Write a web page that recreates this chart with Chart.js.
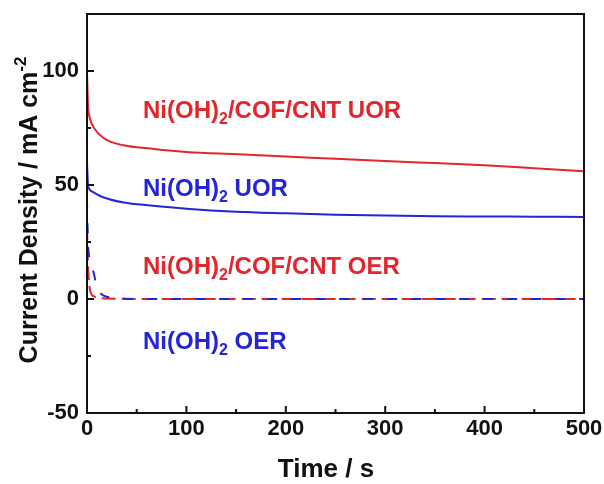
<!DOCTYPE html>
<html>
<head>
<meta charset="utf-8">
<script src="https://cdn.jsdelivr.net/npm/chart.js@4.4.0/dist/chart.umd.min.js"></script>
<style>
  body { margin: 0; background: #fff; }
  #wrap { width: 604px; height: 484px; }
</style>
</head>
<body>
<div id="wrap"><canvas id="chronoChart" width="604" height="484"></canvas></div>
<script>
// time axis (s) and current density (mA cm-2)
const timeUOR = [0, 1, 2, 3, 7, 17, 37, 64, 100, 150, 200, 250, 300, 350, 400, 450, 500];
const cofUOR  = [100, 85, 81, 79, 75, 70.5, 67.4, 66, 64.5, 63.5, 62.5, 61.5, 60.5, 59.6, 58.7, 57.4, 56];
const niUOR   = [60, 50, 48.5, 47.8, 46.7, 44.5, 42.3, 41, 39.6, 38.3, 37.6, 37, 36.6, 36.3, 36.2, 36.1, 36];

const timeOER = [0, 1, 2, 3, 5, 7, 10, 15, 20, 30, 50, 100, 200, 300, 400, 500];
const cofOER  = [32, 15, 8, 4, 1.8, 1.2, 0.5, 0.3, 0.2, 0.1, 0, 0, 0, 0, 0, 0];
const niOER   = [42, 25, 19, 17, 14, 11, 5, 2, 1, 0.3, 0, 0, 0, 0, 0, 0];

const xTicks = [0, 100, 200, 300, 400, 500];
const yTicks = [-50, 0, 50, 100];

const RED = '#e3262c';
const BLUE = '#2424d8';
const FONT = '"Liberation Sans", Arial, sans-serif';

function toPoints(xs, ys) {
    return xs.map((x, i) => ({ x: x, y: ys[i] }));
}

// frame, inward ticks, series labels and axis titles
const decorPlugin = {
    id: 'decor',
    afterDraw(chart) {
        const ctx = chart.ctx;
        const a = chart.chartArea;
        const xs = chart.scales.x;
        const ys = chart.scales.y;
        ctx.save();
        ctx.strokeStyle = '#111';
        ctx.lineWidth = 2;
        ctx.strokeRect(a.left, a.top, a.right - a.left, a.bottom - a.top);

        ctx.beginPath();
        for (let v = 0; v <= 500; v += 50) {
            const px = xs.getPixelForValue(v);
            const len = v % 100 === 0 ? 7 : 4;
            ctx.moveTo(px, a.bottom);
            ctx.lineTo(px, a.bottom - len);
        }
        for (let v = -50; v <= 125; v += 25) {
            const py = ys.getPixelForValue(v);
            const len = v % 50 === 0 ? 7 : 4;
            ctx.moveTo(a.left, py);
            ctx.lineTo(a.left + len, py);
        }
        ctx.stroke();

        // series labels
        const labels = [
            { t: '/COF/CNT UOR', c: RED, y: 118 },
            { t: ' UOR', c: BLUE, y: 196 },
            { t: '/COF/CNT OER', c: RED, y: 274 },
            { t: ' OER', c: BLUE, y: 349 }
        ];
        labels.forEach(l => {
            let x = 143;
            ctx.fillStyle = l.c;
            ctx.textBaseline = 'alphabetic';
            ctx.font = 'bold 24px ' + FONT;
            ctx.fillText('Ni(OH)', x, l.y);
            x += ctx.measureText('Ni(OH)').width;
            ctx.font = 'bold 16px ' + FONT;
            ctx.fillText('2', x, l.y + 6);
            x += ctx.measureText('2').width;
            ctx.font = 'bold 24px ' + FONT;
            ctx.fillText(l.t, x, l.y);
        });

        // x axis title
        ctx.fillStyle = '#111';
        ctx.textAlign = 'center';
        ctx.font = 'bold 26px ' + FONT;
        ctx.fillText('Time / s', 326, 477);
        ctx.textAlign = 'left';

        // y axis title with superscript
        ctx.translate(37, 210);
        ctx.rotate(-Math.PI / 2);
        const main = 'Current Density / mA cm';
        ctx.font = 'bold 17px ' + FONT;
        const supW = ctx.measureText('-2').width;
        ctx.font = 'bold 25px ' + FONT;
        const mainW = ctx.measureText(main).width;
        const start = -(mainW + supW) / 2;
        ctx.fillText(main, start, 0);
        ctx.font = 'bold 17px ' + FONT;
        ctx.fillText('-2', start + mainW, -11);
        ctx.restore();
    }
};

const ctx = document.getElementById('chronoChart').getContext('2d');
const chronoChart = new Chart(ctx, {
    type: 'line',
    data: {
        datasets: [
            {
                label: 'Ni(OH)2/COF/CNT UOR',
                data: toPoints(timeUOR, cofUOR),
                borderColor: RED,
                borderWidth: 2,
                pointRadius: 0,
                cubicInterpolationMode: 'monotone'
            },
            {
                label: 'Ni(OH)2 UOR',
                data: toPoints(timeUOR, niUOR),
                borderColor: BLUE,
                borderWidth: 2,
                pointRadius: 0,
                cubicInterpolationMode: 'monotone'
            },
            {
                label: 'Ni(OH)2/COF/CNT OER',
                data: toPoints(timeOER, cofOER),
                borderColor: RED,
                borderWidth: 2,
                borderDash: [14, 6],
                pointRadius: 0,
                cubicInterpolationMode: 'monotone'
            },
            {
                label: 'Ni(OH)2 OER',
                data: toPoints(timeOER, niOER),
                borderColor: BLUE,
                borderWidth: 2,
                borderDash: [10, 14],
                borderDashOffset: 4,
                pointRadius: 0,
                order: -1,
                cubicInterpolationMode: 'monotone'
            }
        ]
    },
    options: {
        responsive: false,
        animation: false,
        layout: { padding: { left: 0, top: 14, right: 20, bottom: 0 } },
        plugins: {
            legend: { display: false },
            tooltip: { enabled: false }
        },
        scales: {
            x: {
                type: 'linear',
                min: 0,
                max: 500,
                grid: { display: false, drawTicks: false },
                border: { display: false },
                afterBuildTicks: s => { s.ticks = xTicks.map(v => ({ value: v })); },
                afterFit: s => { s.height = 71; s.paddingLeft = 0; s.paddingRight = 0; },
                ticks: {
                    color: '#111',
                    padding: 3,
                    font: { family: FONT, size: 22, weight: 'bold' }
                }
            },
            y: {
                min: -50,
                max: 125,
                grid: { display: false, drawTicks: false },
                border: { display: false },
                afterBuildTicks: s => { s.ticks = yTicks.map(v => ({ value: v })); },
                afterFit: s => { s.width = 87; s.paddingTop = 0; s.paddingBottom = 0; },
                ticks: {
                    color: '#111',
                    padding: 8,
                    font: { family: FONT, size: 22, weight: 'bold' }
                }
            }
        }
    },
    plugins: [decorPlugin]
});
</script>
</body>
</html>
